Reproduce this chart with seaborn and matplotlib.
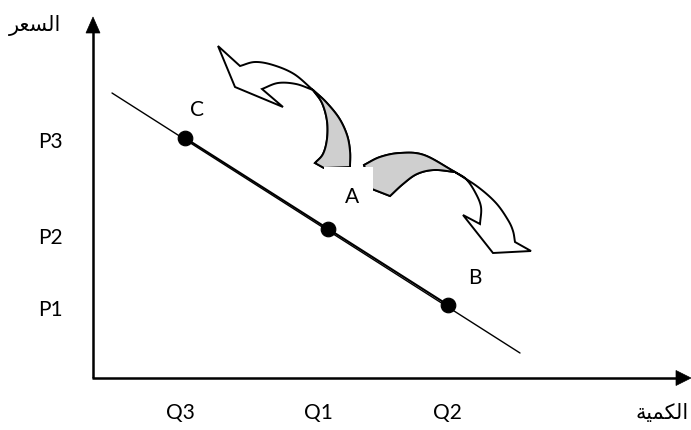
import numpy as np
import pandas as pd
import matplotlib
matplotlib.use("Agg")
import matplotlib.pyplot as plt
from matplotlib.patches import Polygon, Rectangle
import seaborn as sns

# Points on the demand curve (quantity, price) in chart units
point_names = ["C", "A", "B"]
quantity = [92, 235, 355]
price = [240, 149, 73]

# Extent of the demand line
line_quantity = [19, 427]
line_price = [285, 25]

# Axis labels
price_labels = ["P3", "P2", "P1"]
price_label_y = [237, 141, 69]
quantity_labels = ["Q3", "Q1", "Q2"]
quantity_label_x = [87, 225, 354]
y_title = "السعر"
x_title = "الكمية"

sns.set_theme(style="white")
plt.rcParams["font.family"] = ["Lato", "DejaVu Sans"]

# Contextual forms (isolated, final, initial, medial) for the Arabic letters used;
# matplotlib has no text shaping, so the words are shaped here.
ARABIC_FORMS = {
    "\u0627": ("\uFE8D", "\uFE8E", None, None),
    "\u0631": ("\uFEAD", "\uFEAE", None, None),
    "\u0629": ("\uFE93", "\uFE94", None, None),
    "\u0644": ("\uFEDD", "\uFEDE", "\uFEDF", "\uFEE0"),
    "\u0633": ("\uFEB1", "\uFEB2", "\uFEB3", "\uFEB4"),
    "\u0639": ("\uFEC9", "\uFECA", "\uFECB", "\uFECC"),
    "\u0643": ("\uFED9", "\uFEDA", "\uFEDB", "\uFEDC"),
    "\u0645": ("\uFEE1", "\uFEE2", "\uFEE3", "\uFEE4"),
    "\u064A": ("\uFEF1", "\uFEF2", "\uFEF3", "\uFEF4"),
}


def shape_arabic(word):
    def dual(ch):
        return ch in ARABIC_FORMS and ARABIC_FORMS[ch][2] is not None

    out = []
    for i, ch in enumerate(word):
        if ch not in ARABIC_FORMS:
            out.append(ch)
            continue
        iso, fin, ini, med = ARABIC_FORMS[ch]
        prev_joins = i > 0 and dual(word[i - 1])
        next_joins = i + 1 < len(word) and word[i + 1] in ARABIC_FORMS and dual(ch)
        if prev_joins and next_joins:
            out.append(med)
        elif prev_joins:
            out.append(fin)
        elif next_joins:
            out.append(ini)
        else:
            out.append(iso)
    return "".join(reversed(out))


fig = plt.figure(figsize=(6.91, 4.31), dpi=100)
ax = fig.add_axes([0, 0, 1, 1])
ax.set_xlim(-93, 598)
ax.set_ylim(-52, 379)
ax.axis("off")


def flip(pts):
    """Outline points given with y measured downward from the top edge."""
    a = np.asarray(pts, float)
    return np.column_stack([a[:, 0] - 93, 379 - a[:, 1]])


def smooth(pts, n=10):
    """Catmull-Rom curve through the given points."""
    p = np.asarray(pts, float)
    P = np.vstack([2 * p[0] - p[1], p, 2 * p[-1] - p[-2]])
    t = np.linspace(0, 1, n, endpoint=False)[:, None]
    out = []
    for i in range(1, len(P) - 2):
        p0, p1, p2, p3 = P[i - 1], P[i], P[i + 1], P[i + 2]
        out.append(0.5 * (2 * p1 + (-p0 + p2) * t
                          + (2 * p0 - 5 * p1 + 4 * p2 - p3) * t ** 2
                          + (-p0 + 3 * p1 - 3 * p2 + p3) * t ** 3))
    out.append(p[-1:])
    return np.vstack(out)


def curved_arrow(outer_a, outer_b, head, inner_b, inner_a, base):
    """Twisted ribbon arrow: white front face, grey back face."""
    oa, ob = smooth(flip(outer_a)), smooth(flip(outer_b))
    ib, ia = smooth(flip(inner_b)), smooth(flip(inner_a))
    hd, bs = flip(head), flip(base)
    outline = np.vstack([oa, ob[1:], hd, ib, ia[1:], bs])
    ax.add_patch(Polygon(outline, closed=True, fc="white", ec="black",
                         lw=1.4, joinstyle="miter", zorder=2))
    back = np.vstack([oa, ia[1:], bs])
    ax.add_patch(Polygon(back, closed=True, fc="#cfcfcf", ec="black",
                         lw=1.4, joinstyle="miter", zorder=3))


# Arrow from A towards C (price rise)
curved_arrow(
    outer_a=[(350, 168), (350, 152), (347, 136), (339, 119), (326, 103), (313, 91)],
    outer_b=[(313, 91), (294, 75), (273, 66), (255, 63), (240, 67)],
    head=[(218, 47), (235, 88), (283, 108)],
    inner_b=[(262, 90), (278, 84), (296, 85), (313, 91)],
    inner_a=[(313, 91), (322, 104), (327, 122), (327, 140), (323, 155), (315, 164)],
    base=[(324, 169)],
)

# Arrow from A towards B (price fall)
curved_arrow(
    outer_a=[(364, 166), (380, 158), (400, 154), (424, 156), (455, 173)],
    outer_b=[(455, 173), (478, 188), (496, 204), (508, 221), (513, 232), (515, 243)],
    head=[(531, 252), (493, 254), (463, 216)],
    inner_b=[(480, 225), (481, 208), (475, 193), (466, 180), (455, 173)],
    inner_a=[(455, 173), (434, 171), (417, 175), (403, 185), (390, 197)],
    base=[(372, 190)],
)

# White label box behind "A"
ax.add_patch(Rectangle((231, 174), 49, 37, fc="white", ec="none", zorder=4))

# Axes with arrow heads
ax.plot([0, 0], [0, 347], color="black", lw=1.8, solid_capstyle="butt", zorder=5)
ax.add_patch(Polygon([(-7, 345), (7, 345), (0, 361)], closed=True,
                     fc="black", ec="black", lw=0.5, zorder=5))
ax.plot([-1, 585], [0, 0], color="black", lw=1.8, solid_capstyle="butt", zorder=5)
ax.add_patch(Polygon([(583, 7.5), (583, -7.5), (598, 0)], closed=True,
                     fc="black", ec="black", lw=0.5, zorder=5))

# Demand line and the highlighted stretch from C to B
sns.lineplot(x=line_quantity, y=line_price, color="black", lw=1.0,
             ax=ax, zorder=6, sort=False)
sns.lineplot(x=[quantity[0], quantity[2]], y=[price[0], price[2]],
             color="black", lw=1.5, ax=ax, zorder=6, sort=False)
sns.scatterplot(x=quantity, y=price, color="black", s=110,
                edgecolor="black", ax=ax, zorder=7, legend=False)

# Point names
name_offsets = [(12, 29), (24, 33), (27, 28)]
for name, q, p, (dx, dy) in zip(point_names, quantity, price, name_offsets):
    ax.text(q + dx, p + dy, name, ha="center", va="center",
            fontsize=15, color="black", zorder=8)

for lab, y in zip(price_labels, price_label_y):
    ax.text(-43, y, lab, ha="center", va="center", fontsize=15, color="black")
for lab, x in zip(quantity_labels, quantity_label_x):
    ax.text(x, -34, lab, ha="center", va="center", fontsize=15, color="black")

ax.text(-58, 353, shape_arabic(y_title), ha="center", va="center", fontsize=15,
        family=["DejaVu Sans"], color="black")
ax.text(596, -34, shape_arabic(x_title), ha="right", va="center", fontsize=15,
        family=["DejaVu Sans"], color="black")

fig.savefig("out.png", dpi=100)
